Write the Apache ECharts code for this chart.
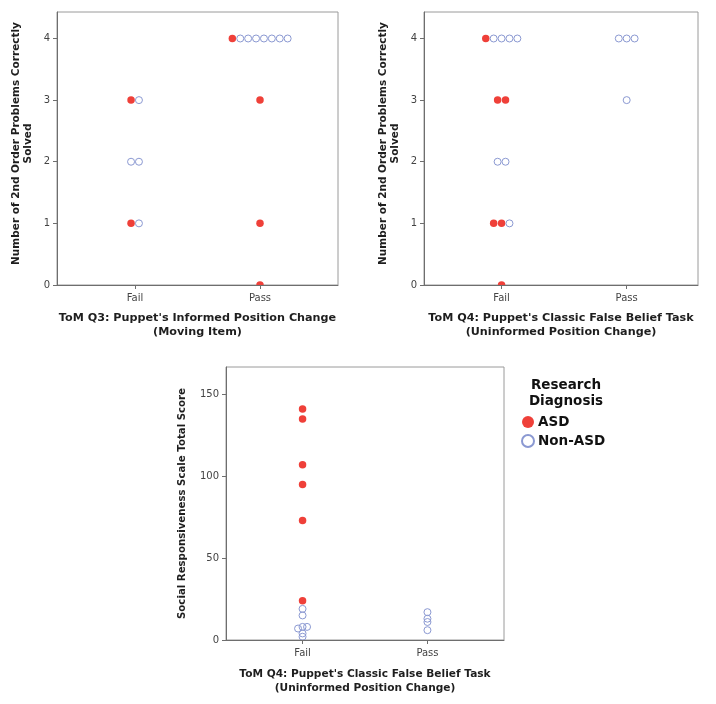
<!DOCTYPE html>
<html><head><meta charset="utf-8">
<script src="https://cdn.jsdelivr.net/npm/echarts@6/dist/echarts.min.js"></script>
<style>html,body{margin:0;padding:0;background:#fff}#c{width:716px;height:704px}</style>
</head><body><div id="c"></div>
<script>
// ---------- data ----------
const categories = ['Fail', 'Pass'];
const groupNames = ['ASD', 'Non-ASD'];
// Panel 1: ToM Q3 vs number of 2nd-order problems solved
const q3AsdFail = [3, 1];
const q3AsdPass = [4, 3, 1, 0];
const q3NonFail = [3, 2, 2, 1];
const q3NonPass = [4, 4, 4, 4, 4, 4, 4];
// Panel 2: ToM Q4 vs number of 2nd-order problems solved
const q4AsdFail = [4, 3, 3, 1, 1, 0];
const q4AsdPass = [];
const q4NonFail = [4, 4, 4, 4, 2, 2, 1];
const q4NonPass = [4, 4, 4, 3];
// Panel 3: ToM Q4 vs SRS total score
const srsAsdFail = [141, 135, 107, 95, 73, 24];
const srsAsdPass = [];
const srsNonFail = [19, 15, 8, 7, 8, 4, 2];
const srsNonPass = [17, 13, 11, 6];
const countTicks = [0, 1, 2, 3, 4];
const srsTicks = [0, 50, 100, 150];
const titleCount = 'Number of 2nd Order Problems Correctly\nSolved';
const titleSrs = 'Social Responsiveness Scale Total Score';
const titleQ3 = "ToM Q3: Puppet's Informed Position Change\n(Moving Item)";
const titleQ4 = "ToM Q4: Puppet's Classic False Belief Task\n(Uninformed Position Change)";

// ---------- layout ----------
const FONT = 'DejaVu Sans';
const RED = '#EF4039';
const BLUE = '#8B99D2';
const panels = [
  { left: 57, top: 12, width: 281, height: 273, xMin: -0.624, xMax: 1.624, yMax: 4.43 },
  { left: 424, top: 12, width: 274, height: 273, xMin: -0.62, xMax: 1.57, yMax: 4.43 },
  { left: 226, top: 367, width: 278, height: 273, xMin: -0.613, xMax: 1.613, yMax: 166.7 }
];

// dots with equal value in a column are laid side by side
function stackRows(asd, non, p, spacingPx) {
  const pxPerX = p.width / (p.xMax - p.xMin);
  const out = { 'ASD': [], 'Non-ASD': [] };
  categories.forEach((c, ci) => {
    const pts = [];
    asd[ci].forEach(v => pts.push({ g: 'ASD', v }));
    non[ci].forEach(v => pts.push({ g: 'Non-ASD', v }));
    const rows = new Map();
    pts.forEach(q => { if (!rows.has(q.v)) rows.set(q.v, []); rows.get(q.v).push(q); });
    rows.forEach(row => row.forEach((q, i) => {
      out[q.g].push([ci + (i - (row.length - 1) / 2) * spacingPx / pxPerX, q.v]);
    }));
  });
  return out;
}
// greedy swarm: shift a dot sideways only if it nearly coincides with a placed one
function swarm(asd, non, p, stepPx, minDistPx) {
  const pxPerX = p.width / (p.xMax - p.xMin);
  const pxPerY = p.height / p.yMax;
  const out = { 'ASD': [], 'Non-ASD': [] };
  categories.forEach((c, ci) => {
    const pts = [];
    asd[ci].forEach(v => pts.push({ g: 'ASD', v }));
    non[ci].forEach(v => pts.push({ g: 'Non-ASD', v }));
    const placed = [];
    pts.forEach(q => {
      const y = q.v * pxPerY;
      let off = 0;
      for (let k = 0; k < 20; k++) {
        const cand = k === 0 ? 0 : (k % 2 ? -1 : 1) * Math.ceil(k / 2) * stepPx;
        if (placed.every(pp => Math.hypot(pp[0] - cand, pp[1] - y) >= minDistPx)) { off = cand; break; }
      }
      placed.push([off, y]);
      out[q.g].push([ci + off / pxPerX, q.v]);
    });
  });
  return out;
}

const d1 = stackRows([q3AsdFail, q3AsdPass], [q3NonFail, q3NonPass], panels[0], 7.9);
const d2 = stackRows([q4AsdFail, q4AsdPass], [q4NonFail, q4NonPass], panels[1], 7.9);
const d3 = swarm([srsAsdFail, srsAsdPass], [srsNonFail, srsNonPass], panels[2], 4.5, 3);
const dataSets = [d1, d2, d3];

const labelStyle = { color: '#444', fontSize: 10, fontFamily: FONT };
const grids = panels.map(p => ({
  left: p.left, top: p.top, width: p.width, height: p.height,
  show: true, borderColor: '#9a9a9a', borderWidth: 1, backgroundColor: 'transparent',
  outerBoundsMode: 'none', containLabel: false
}));
const xAxes = panels.map((p, i) => ({
  type: 'value', gridIndex: i, min: p.xMin, max: p.xMax, z: 5,
  name: i === 0 ? titleQ3 : titleQ4, nameLocation: 'middle', nameGap: i === 2 ? 27 : 26,
  nameTextStyle: { fontFamily: FONT, fontWeight: 'bold', fontSize: i === 2 ? 10.6 : 11.2, lineHeight: 14, color: '#1e1e1e', verticalAlign: 'top' },
  axisLine: { show: true, onZero: false, lineStyle: { color: '#6e6e6e', width: 1 } },
  axisTick: { show: true, length: 4, lineStyle: { color: '#6e6e6e' }, customValues: [0, 1] },
  axisLabel: Object.assign({ margin: 8, customValues: [0, 1], formatter: v => categories[Math.round(v)] }, labelStyle),
  splitLine: { show: false }
}));
const yAxes = panels.map((p, i) => ({
  type: 'value', gridIndex: i, min: 0, max: p.yMax, z: 5,
  name: i === 2 ? titleSrs : titleCount, nameLocation: 'middle', nameRotate: 90,
  nameGap: i === 2 ? 37 : 22,
  nameTextStyle: {
    fontFamily: FONT, fontWeight: 'bold', fontSize: i === 2 ? 10.2 : 10.5, lineHeight: 12.5, color: '#1e1e1e',
    padding: i === 2 ? 0 : [0, 0, 0, 10]
  },
  axisLine: { show: true, onZero: false, lineStyle: { color: '#6e6e6e', width: 1 } },
  axisTick: { show: true, length: 4, lineStyle: { color: '#6e6e6e' }, customValues: i === 2 ? srsTicks : countTicks },
  axisLabel: Object.assign({ margin: 7, customValues: i === 2 ? srsTicks : countTicks }, labelStyle),
  splitLine: { show: false }
}));
const series = [];
dataSets.forEach((d, i) => {
  series.push({
    name: 'ASD', type: 'scatter', xAxisIndex: i, yAxisIndex: i, z: 2,
    symbol: 'circle', symbolSize: 7.5, data: d['ASD'],
    itemStyle: { color: RED, opacity: 1 }, emphasis: { disabled: true }
  });
  series.push({
    name: 'Non-ASD', type: 'scatter', xAxisIndex: i, yAxisIndex: i, z: 2,
    symbol: 'circle', symbolSize: 7, data: d['Non-ASD'],
    itemStyle: { color: 'rgba(255,255,255,0)', borderColor: BLUE, borderWidth: 1, opacity: 1 },
    emphasis: { disabled: true }
  });
});
// white strips just under each plot area so dots sitting on 0 appear cut by the axis
const masks = panels.map(p => ({
  type: 'rect', z: 3, silent: true,
  shape: { x: p.left + 1, y: p.top + p.height + 0.5, width: p.width - 2, height: 6 },
  style: { fill: '#fff' }
}));

const chart = echarts.init(document.getElementById('c'), null, { renderer: 'canvas' });
chart.setOption({
  animation: false,
  backgroundColor: '#fff',
  grid: grids, xAxis: xAxes, yAxis: yAxes, series,
  legend: {
    orient: 'vertical', left: 516, top: 410, itemGap: 5, itemWidth: 12, itemHeight: 12,
    selectedMode: false,
    data: groupNames.map(n => ({ name: n, icon: 'circle' })),
    textStyle: { fontFamily: FONT, fontSize: 13.5, fontWeight: 'bold', color: '#111', padding: [0, 0, 0, -1] }
  },
  graphic: {
    elements: masks.concat([{
      type: 'text', z: 10, silent: true,
      style: {
        text: 'Research\nDiagnosis', x: 566, y: 378, textAlign: 'center', textVerticalAlign: 'top',
        fontFamily: FONT, fontWeight: 'bold', fontSize: 13.5, lineHeight: 15.5, fill: '#111'
      }
    }])
  }
});
</script>
</body></html>
